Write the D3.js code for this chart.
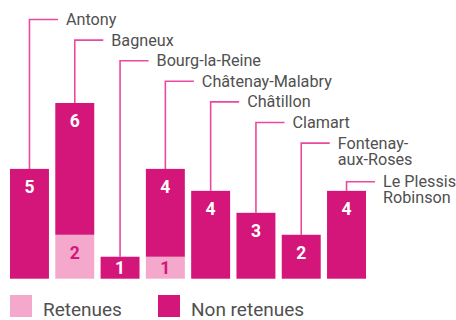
<!DOCTYPE html>
<html>
<head>
<meta charset="utf-8">
<script src="https://cdn.jsdelivr.net/npm/d3@7"></script>
<style>
  html, body { margin: 0; padding: 0; background: #fff; }
  svg { display: block; }
  text { font-family: Roboto, "Noto Sans", sans-serif; }
</style>
</head>
<body>
<svg id="chart" width="456" height="320"></svg>
<script>
// Communes (label lines split on "|")
const communes = ["Antony", "Bagneux", "Bourg-la-Reine", "Châtenay-Malabry", "Châtillon",
                  "Clamart", "Fontenay-|aux-Roses", "Le Plessis|Robinson"];
const retenues = [0, 2, 0, 1, 0, 0, 0, 0];
const nonRetenues = [5, 6, 1, 4, 4, 3, 2, 4];
const seriesNames = ["Retenues", "Non retenues"];
const seriesColors = ["#f4a8cb", "#d4157a"];

const svg = d3.select("#chart");

const x = d3.scaleBand()
  .domain(communes)
  .range([10, 366])
  .paddingInner(0.14)
  .paddingOuter(0);

const y = d3.scaleLinear()
  .domain([0, 8])
  .range([278.7, 103]);

const rows = communes.map((c, i) => ({ commune: c, Retenues: retenues[i], "Non retenues": nonRetenues[i] }));
const stack = d3.stack().keys(seriesNames)(rows);

const color = d3.scaleOrdinal().domain(seriesNames).range(seriesColors);

// Leader lines & commune labels (drawn first so bars sit on top)
const lineColor = "#e94a9e";
let labelY = 19.5;
const g = svg.append("g");
communes.forEach((c, i) => {
  const lines = c.split("|");
  const cx = x(c) + x.bandwidth() / 2;
  const total = retenues[i] + nonRetenues[i];
  const top = y(total);
  const hEnd = cx + 28.5;
  g.append("path")
    .attr("d", `M${cx},${top}V${labelY}H${hEnd}`)
    .attr("fill", "none")
    .attr("stroke", lineColor)
    .attr("stroke-width", 1.6);
  const t = g.append("text")
    .attr("x", hEnd + 8)
    .attr("y", labelY + 5.5)
    .attr("fill", "#505050")
    .attr("font-size", 16.2);
  lines.forEach((ln, k) => {
    t.append("tspan").attr("x", hEnd + 8).attr("dy", k === 0 ? 0 : 16.2).text(ln);
  });
  labelY += 20.6 + (lines.length - 1) * 18;
});

// Stacked bars
const layers = svg.append("g").selectAll("g")
  .data(stack)
  .join("g")
  .attr("fill", d => color(d.key));

layers.selectAll("rect")
  .data(d => d.map(v => ({ key: d.key, v })))
  .join("rect")
  .attr("x", d => x(d.v.data.commune))
  .attr("y", d => y(d.v[1]))
  .attr("width", x.bandwidth())
  .attr("height", d => y(d.v[0]) - y(d.v[1]));

// Value labels inside segments
stack.forEach(layer => {
  layer.forEach(v => {
    const val = v[1] - v[0];
    if (val <= 0) return;
    const top = y(v[1]);
    const h = y(v[0]) - top;
    const cy = top + Math.min(17.5, h / 2);
    svg.append("text")
      .attr("x", x(v.data.commune) + x.bandwidth() / 2)
      .attr("y", cy)
      .attr("dy", "0.36em")
      .attr("text-anchor", "middle")
      .attr("font-size", 17.5)
      .attr("font-weight", "bold")
      .attr("fill", layer.key === "Retenues" ? "#d4157a" : "#ffffff")
      .text(val);
  });
});

// Legend
const legendX = [10, 158];
seriesNames.forEach((s, i) => {
  svg.append("rect")
    .attr("x", legendX[i]).attr("y", 295)
    .attr("width", 22).attr("height", 22)
    .attr("fill", color(s));
  svg.append("text")
    .attr("x", legendX[i] + 33).attr("y", 316)
    .attr("font-size", 19)
    .attr("fill", "#505050")
    .text(s);
});
</script>
</body>
</html>
